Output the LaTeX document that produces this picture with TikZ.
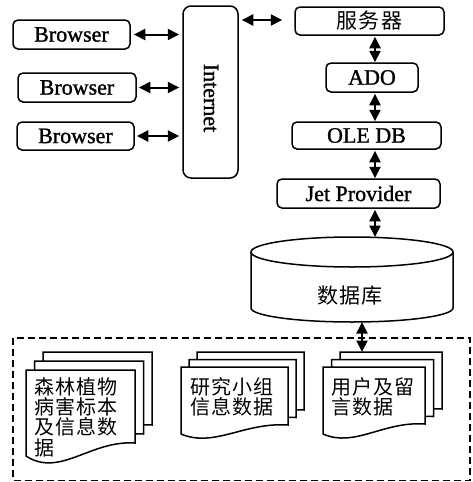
\documentclass[tikz,border=0pt]{standalone}
\usepackage{fontspec}
\setmainfont{Liberation Serif}[FakeBold=1.2]
\newfontfamily\cjk[LetterSpace=6]{Noto Sans CJK SC}
\usetikzlibrary{arrows.meta}

% one sheet of a document stack: left, top, right, bottom-left y, bottom-right y, dip of the wave
\newcommand\docpage[6]{%
  \draw[page] (#1,#4) -- (#1,#2) -- (#3,#2) -- (#3,#5)
    .. controls ({#1+0.59*(#3-#1)},{#5-3}) and ({#1+0.31*(#3-#1)},{#4+#6}) .. (#1,#4) -- cycle;}
% three sheets, back to front
\newcommand\docstack[8]{%
  \begin{scope}[shift={({2*#7},{-2*#8})}]\docpage{#1}{#2}{#3}{#4}{#5}{#6}\end{scope}
  \begin{scope}[shift={(#7,-#8)}]\docpage{#1}{#2}{#3}{#4}{#5}{#6}\end{scope}
  \docpage{#1}{#2}{#3}{#4}{#5}{#6}}

\begin{document}
\begin{tikzpicture}[x=1pt,y=-1pt,
  box/.style={draw, line width=1.5pt, rounded corners=5pt, inner sep=0pt,
              font=\fontsize{22}{24}\selectfont},
  cjkbox/.style={box, font=\cjk\fontsize{21}{24}\selectfont},
  link/.style={line width=2pt,
               {Triangle[length=11.5pt,width=11pt]}-{Triangle[length=11.5pt,width=11pt]}},
  page/.style={draw, line width=1.5pt, fill=white},
  doctext/.style={inner sep=0pt, anchor=west, align=left,
                  font=\cjk\fontsize{20}{20.3}\selectfont},
]
\useasboundingbox (0,0) rectangle (473,482);

% clients and the internet
\node[box, minimum width=117pt, minimum height=29pt] (b1) at (71.5,34.5) {Browser};
\node[box, minimum width=118pt, minimum height=29pt] (b2) at (77,87.5) {Browser};
\node[box, minimum width=117pt, minimum height=28pt] (b3) at (75.5,136) {Browser};
\node[box, rounded corners=8pt, minimum width=55pt, minimum height=172pt] (inet) at (210.5,92) {};
\node[rotate=-90, font=\fontsize{22}{24}\selectfont, inner sep=0pt] (inetlabel) at (211,98) {Internet};

% server side chain
\node[cjkbox, minimum width=149pt, minimum height=28pt] (srv) at (369.5,21) {服务器};
\node[box, minimum width=92pt, minimum height=29pt] (ado) at (372,77.5) {ADO};
\node[box, minimum width=149pt, minimum height=27pt] (ole) at (366.5,135.5) {OLE DB};
\node[box, minimum width=163pt, minimum height=29pt] (jet) at (358.5,193.5) {Jet Provider};

% database cylinder
\draw[line width=1.5pt] (352,252) ellipse[x radius=101, y radius=15];
\draw[line width=1.5pt] (251,252) -- (251,308)
  arc[start angle=180, end angle=0, x radius=101, y radius=14] -- (453,252);
\node[font=\cjk\fontsize{21}{24}\selectfont, inner sep=0pt] (db) at (350,296) {数据库};
\coordinate (dbtop) at (375,237);
\coordinate (dbbot) at (362,322);

% data store
\draw[line width=1.5pt, dash pattern=on 7pt off 4pt] (13,338) rectangle (470,480.5);
\docstack{26}{370}{135}{456}{443}{22}{8.5}{9}
\docstack{181}{367}{288}{434}{425}{14}{8}{7.5}
\docstack{323}{367}{425}{434}{424}{14}{8.5}{7.5}
\node[doctext] (d1) at (34,417) {森林植物\\病害标本\\及信息数\\据};
\node[doctext] (d2) at (190,397) {研究小组\\信息数据};
\node[doctext] (d3) at (331,397) {用户及留\\言数据};
\coordinate (d3top) at (362,352);

% connectors
\coordinate (ax) at (375,0);
\draw[link, shorten <=3pt, shorten >=3pt] (b1.east) -- (b1.east -| inet.west);
\draw[link, shorten <=2pt, shorten >=3pt] (b2.east) -- (b2.east -| inet.west);
\draw[link, shorten <=2pt, shorten >=3pt] (b3.east) -- (b3.east -| inet.west);
\draw[link, shorten <=3pt, shorten >=12pt] (inet.east |- 0,20) -- (srv.west |- 0,20);
\draw[link, shorten <=1pt] (srv.south -| ax) -- (ado.north -| ax);
\draw[link, shorten <=1pt] (ado.south -| ax) -- (ole.north -| ax);
\draw[link, shorten <=1pt] (ole.south -| ax) -- (jet.north -| ax);
\draw[link, shorten <=1pt] (jet.south -| ax) -- (dbtop);
\draw[link] (dbbot) -- (d3top);
\end{tikzpicture}
\end{document}
